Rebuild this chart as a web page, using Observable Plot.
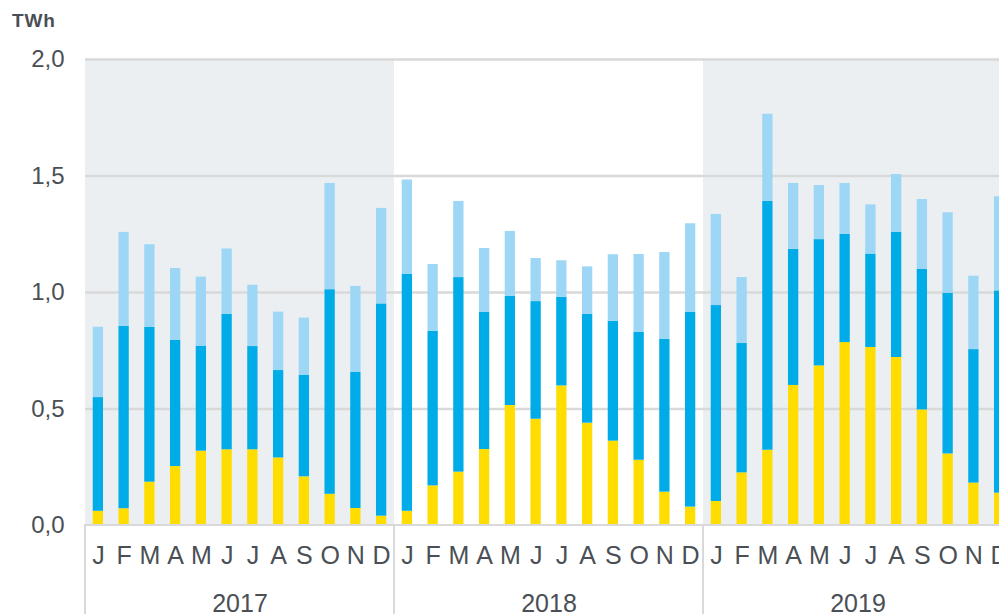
<!DOCTYPE html>
<html><head><meta charset="utf-8">
<script src="https://cdn.jsdelivr.net/npm/d3@7"></script>
<script src="https://cdn.jsdelivr.net/npm/@observablehq/plot@0.6"></script>
<style>
html,body{margin:0;padding:0;background:#fff;overflow:hidden;}
#wrap{position:relative;width:999px;height:614px;overflow:hidden;}
#unit{position:absolute;left:12px;top:10px;font:bold 19px "Liberation Sans",Arial,sans-serif;color:#4a4f55;letter-spacing:0.8px;}
#chart{position:absolute;left:0;top:0;width:1012px;}
</style></head><body>
<div id="wrap"><div id="chart"></div><div id="unit">TWh</div></div>
<script>
const years = [2017, 2018, 2019];
const months = ["J","F","M","A","M","J","J","A","S","O","N","D"];
const yTicks = [0, 0.5, 1, 1.5, 2];
const shadedYears = [2017, 2019];
const seriesNames = ["Serie A", "Serie B", "Serie C"];
const seriesColors = ["#ffdd00", "#00ace7", "#9dd7f5"];
// stacked segment values (TWh), 36 months Jan 2017 .. Dec 2019
const serieA = [
  0.061, 0.072, 0.186, 0.253, 0.319, 0.325, 0.325, 0.290, 0.209, 0.134, 0.073, 0.040,
  0.061, 0.170, 0.229, 0.326, 0.515, 0.456, 0.599, 0.439, 0.362, 0.280, 0.143, 0.079,
  0.103, 0.226, 0.323, 0.601, 0.685, 0.785, 0.764, 0.721, 0.496, 0.307, 0.182, 0.139
];
const serieB = [
  0.488, 0.783, 0.664, 0.541, 0.451, 0.582, 0.443, 0.375, 0.435, 0.878, 0.584, 0.911,
  1.018, 0.664, 0.835, 0.590, 0.468, 0.505, 0.381, 0.467, 0.515, 0.550, 0.657, 0.837,
  0.841, 0.555, 1.068, 0.584, 0.542, 0.464, 0.401, 0.537, 0.604, 0.690, 0.573, 0.868
];
const serieC = [
  0.302, 0.403, 0.355, 0.309, 0.296, 0.280, 0.263, 0.251, 0.246, 0.456, 0.369, 0.410,
  0.404, 0.286, 0.327, 0.273, 0.279, 0.185, 0.156, 0.204, 0.285, 0.333, 0.372, 0.379,
  0.391, 0.283, 0.374, 0.283, 0.232, 0.219, 0.211, 0.248, 0.299, 0.345, 0.315, 0.404
];

const seriesValues = [serieA, serieB, serieC];
const rows = [];
for (let i = 0; i < 36; i++) {
  seriesValues.forEach((vals, s) => {
    rows.push({year: years[Math.floor(i / 12)], month: i % 12, series: seriesNames[s], value: vals[i]});
  });
}

const textColor = "#4a4f55";
const gridColor = "#d9d9d9";
const fmt = d => d.toFixed(1).replace(".", ",");

const chart = Plot.plot({
  width: 1012,
  height: 614,
  marginLeft: 85,
  marginRight: 0,
  marginTop: 59,
  marginBottom: 89,
  style: {fontFamily: "'Liberation Sans', Arial, sans-serif", color: textColor, background: "transparent", overflow: "visible", maxWidth: "none"},
  fx: {domain: years, padding: 0, round: false, axis: null},
  x: {domain: d3.range(12), paddingInner: 0.6, paddingOuter: 0.3, round: false, axis: null},
  y: {domain: [0, 2], axis: null},
  color: {type: "ordinal", domain: seriesNames, range: seriesColors},
  marks: [
    Plot.rect(shadedYears, {fx: d => d, y1: 0, y2: 2, fill: "#ebeff2"}),
    Plot.ruleY(yTicks.filter(d => d > 0), {stroke: gridColor, strokeWidth: 2.5}),
    Plot.barY(rows, Plot.stackY({order: seriesNames}, {fx: "year", x: "month", y: "value", fill: "series", z: "series"})),
    Plot.rect(years, {fx: d => d, y1: 0, y2: -0.45, fill: "none", stroke: gridColor, strokeWidth: 2}),
    Plot.axisY(yTicks, {tickSize: 0, tickPadding: 21, tickFormat: fmt, fontSize: 24, fill: textColor, label: null, letterSpacing: 1.5}),
    Plot.axisX({anchor: "bottom", tickSize: 0, tickPadding: 21, tickFormat: i => months[i], fontSize: 25, fill: textColor, label: null}),
    Plot.axisFx({anchor: "bottom", tickSize: 0, tickPadding: 69, tickFormat: d => String(d), fontSize: 25, fill: textColor, label: null, letterSpacing: 2.5})
  ]
});
document.getElementById("chart").appendChild(chart);
</script>
</body></html>
